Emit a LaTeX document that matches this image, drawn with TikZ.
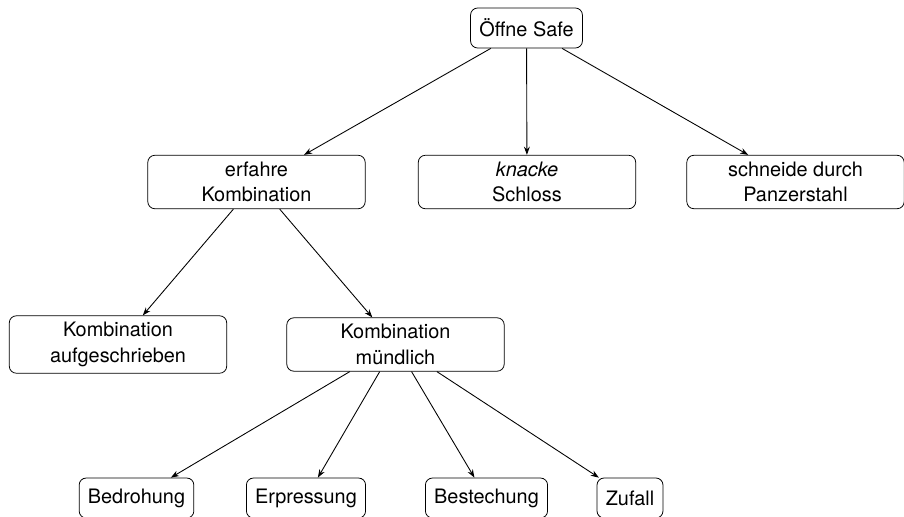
\documentclass[tikz,border=0pt]{standalone}
\usepackage{fontspec}
\setmainfont{TeX Gyre Heros}
\usetikzlibrary{arrows.meta}
\begin{document}
\begin{tikzpicture}[x=0.513pt,y=-0.513pt,
  box/.style={draw, rounded corners=3.6pt, align=center, inner xsep=4.5pt, inner ysep=3.3pt,
    minimum height=20.5pt, font=\fontsize{10.2}{13.2}\selectfont},
  wide/.style={box, minimum width=111.5pt},
  arr/.style={-{Stealth[length=4.2pt,width=3pt]}, line width=0.45pt}]
\useasboundingbox (0,0) rectangle (904,516);
\node[box] (safe) at (526.5,28) {Öffne Safe};
\node[wide] (erf) at (256.5,182) {erfahre\\Kombination};
\node[wide] (kna) at (527,182) {\textit{knacke}\\Schloss};
\node[wide] (sch) at (795.5,182) {schneide durch\\Panzerstahl};
\node[wide] (auf) at (118,344.5) {Kombination\\aufgeschrieben};
\node[wide] (mue) at (395.5,344.5) {Kombination\\mündlich};
\node[box] (bed) at (136.5,498) {Bedrohung};
\node[box] (erp) at (306,498) {Erpressung};
\node[box] (bes) at (486.5,498) {Bestechung};
\node[box] (zuf) at (630,498) {Zufall};
\draw[arr] (safe) -- (erf);
\draw[arr] (safe) -- (kna);
\draw[arr] (safe) -- (sch);
\draw[arr] (erf) -- (auf);
\draw[arr] (erf) -- (mue);
\draw[arr] (mue) -- (bed);
\draw[arr] (mue) -- (erp);
\draw[arr] (mue) -- (bes);
\draw[arr] (mue) -- (zuf);
\end{tikzpicture}
\end{document}
